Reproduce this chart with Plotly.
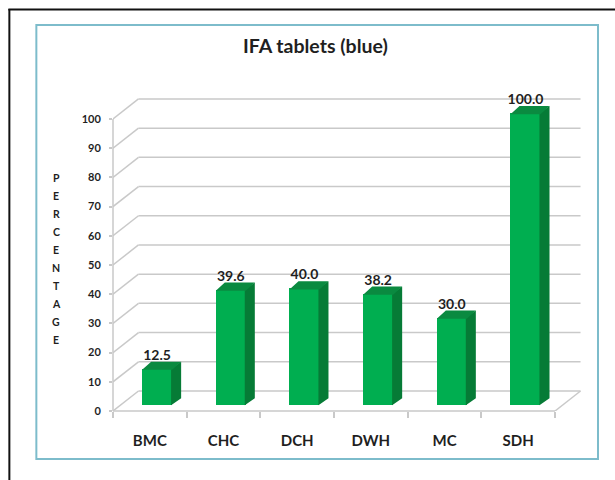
import plotly.graph_objects as go

categories = ["BMC", "CHC", "DCH", "DWH", "MC", "SDH"]
values = [12.5, 39.6, 40.0, 38.2, 30.0, 100.0]
labels = ["12.5", "39.6", "40.0", "38.2", "30.0", "100.0"]
y_ticks = [0, 10, 20, 30, 40, 50, 60, 70, 80, 90, 100]
title_text = "IFA tablets (blue)"
y_title = "PERCENTAGE"

W, H = 615, 480
X0, Y0, CAT_W, UNIT = 112.7, 411.0, 73.72, 2.92
DEPTH_X = 25.5 / CAT_W
DEPTH_Y = 20.0 / UNIT
XMAX = 6 + DEPTH_X + 0.02
YMAX = 100 + DEPTH_Y + 1
BAR_W = 30 / CAT_W
D_FRONT, D_BACK = 0.285, 0.64

ML, MR = X0, W - (X0 + XMAX * CAT_W)
MT, MB = Y0 - YMAX * UNIT, H - Y0


def px(x):
    return (x - ML) / (W - ML - MR)


def py(y):
    return 1 - (y - MT) / (H - MT - MB)


FONT = "Lato"
TEXT = "#1f1f1f"
GRID = "#c9c9c9"
FRONT, SIDE, TOP = "#00ae50", "#067b36", "#0a8a40"

centers = [i + 0.5 for i in range(len(categories))]
fx = [c + D_FRONT * DEPTH_X for c in centers]
base = D_FRONT * DEPTH_Y
dx = (D_BACK - D_FRONT) * DEPTH_X
dy = (D_BACK - D_FRONT) * DEPTH_Y
SEAM_X = 1.0 / CAT_W
SEAM_Y = 1.0 / UNIT

side_x, side_y, top_x, top_y = [], [], [], []
for c, v in zip(fx, values):
    l, r = c - BAR_W / 2, c + BAR_W / 2
    t = v + base
    side_x += [r - SEAM_X, r + dx, r + dx, r - SEAM_X, r - SEAM_X, None]
    side_y += [base, base + dy, t + dy, t, base, None]
    top_x += [l, l + dx, r + dx, r, l, None]
    top_y += [t - SEAM_Y, t + dy, t + dy, t - SEAM_Y, t - SEAM_Y, None]

fig = go.Figure()
fig.add_trace(go.Bar(x=fx, y=values, base=base, width=BAR_W, marker=dict(color=FRONT, line=dict(width=0)),
                     hoverinfo="skip"))
fig.add_trace(go.Scatter(x=side_x, y=side_y, mode="lines", fill="toself", fillcolor=SIDE, line=dict(width=0),
                         hoverinfo="skip"))
fig.add_trace(go.Scatter(x=top_x, y=top_y, mode="lines", fill="toself", fillcolor=TOP, line=dict(width=0),
                         hoverinfo="skip"))
fig.add_trace(go.Scatter(x=fx, y=[v + base + dy - 0.5 for v in values], mode="text", text=labels,
                         textposition="top center", cliponaxis=False,
                         textfont=dict(family=FONT, size=14, color=TEXT, weight="bold"), hoverinfo="skip"))

shapes = [
    dict(type="rect", xref="paper", yref="paper", x0=px(36), x1=px(598), y0=py(459), y1=py(25),
         line=dict(color="#7dbccb", width=2), fillcolor="white", layer="below"),
    dict(type="line", xref="paper", yref="paper", x0=px(9), x1=px(9), y0=py(9), y1=py(481),
         line=dict(color="#111111", width=2), layer="below"),
    dict(type="line", xref="paper", yref="paper", x0=px(8), x1=px(616), y0=py(9.5), y1=py(9.5),
         line=dict(color="#111111", width=2), layer="below"),
]
line = dict(color=GRID, width=1.5)
for v in y_ticks:
    shapes.append(dict(type="line", x0=0, x1=DEPTH_X, y0=v, y1=v + DEPTH_Y, line=line, layer="below"))
    shapes.append(dict(type="line", x0=DEPTH_X, x1=6 + DEPTH_X, y0=v + DEPTH_Y, y1=v + DEPTH_Y, line=line,
                       layer="below"))
shapes.append(dict(type="line", xref="paper", x0=0, x1=0, yref="y", y0=0, y1=100, line=line, layer="below"))
shapes.append(dict(type="line", xref="x", x0=0, x1=6, yref="paper", y0=0, y1=0, line=line, layer="below"))
shapes.append(dict(type="line", x0=6, x1=6 + DEPTH_X, y0=0, y1=DEPTH_Y, line=line, layer="below"))

annotations = [dict(text=title_text, xref="paper", yref="paper", x=px(315.5), y=py(46), showarrow=False,
                    xanchor="center", yanchor="middle",
                    font=dict(family=FONT, size=19.5, color=TEXT, weight="bold"))]
for i, ch in enumerate(y_title):
    annotations.append(dict(text=ch, xref="paper", yref="paper", x=px(56), y=py(178 + 18 * i), showarrow=False,
                            xanchor="center", yanchor="middle",
                            font=dict(family=FONT, size=10.5, color=TEXT, weight="bold")))

fig.update_layout(
    width=W, height=H, autosize=False, showlegend=False, bargap=0,
    margin=dict(l=ML, r=MR, t=MT, b=MB, pad=0),
    paper_bgcolor="white", plot_bgcolor="rgba(0,0,0,0)",
    shapes=shapes, annotations=annotations,
    xaxis=dict(range=[0, XMAX], tickmode="array", tickvals=centers, ticktext=categories, showgrid=False,
               zeroline=False, showline=False, ticks="", ticklabelstandoff=19,
               tickfont=dict(family=FONT, size=15, color=TEXT, weight="bold"),
               minor=dict(tickmode="array", tickvals=list(range(7)), ticks="outside", ticklen=6,
                          tickcolor=GRID, tickwidth=1.5, showgrid=False)),
    yaxis=dict(range=[0, YMAX], tickmode="array", tickvals=y_ticks, showgrid=False, zeroline=False, showline=False,
               ticks="outside", ticklen=3, tickcolor=GRID, tickwidth=1.5, ticklabelstandoff=6,
               tickfont=dict(family=FONT, size=11, color=TEXT, weight="bold")),
)

fig.write_html("out.html", config=dict(displayModeBar=False), post_script="document.body.style.margin='0';")
